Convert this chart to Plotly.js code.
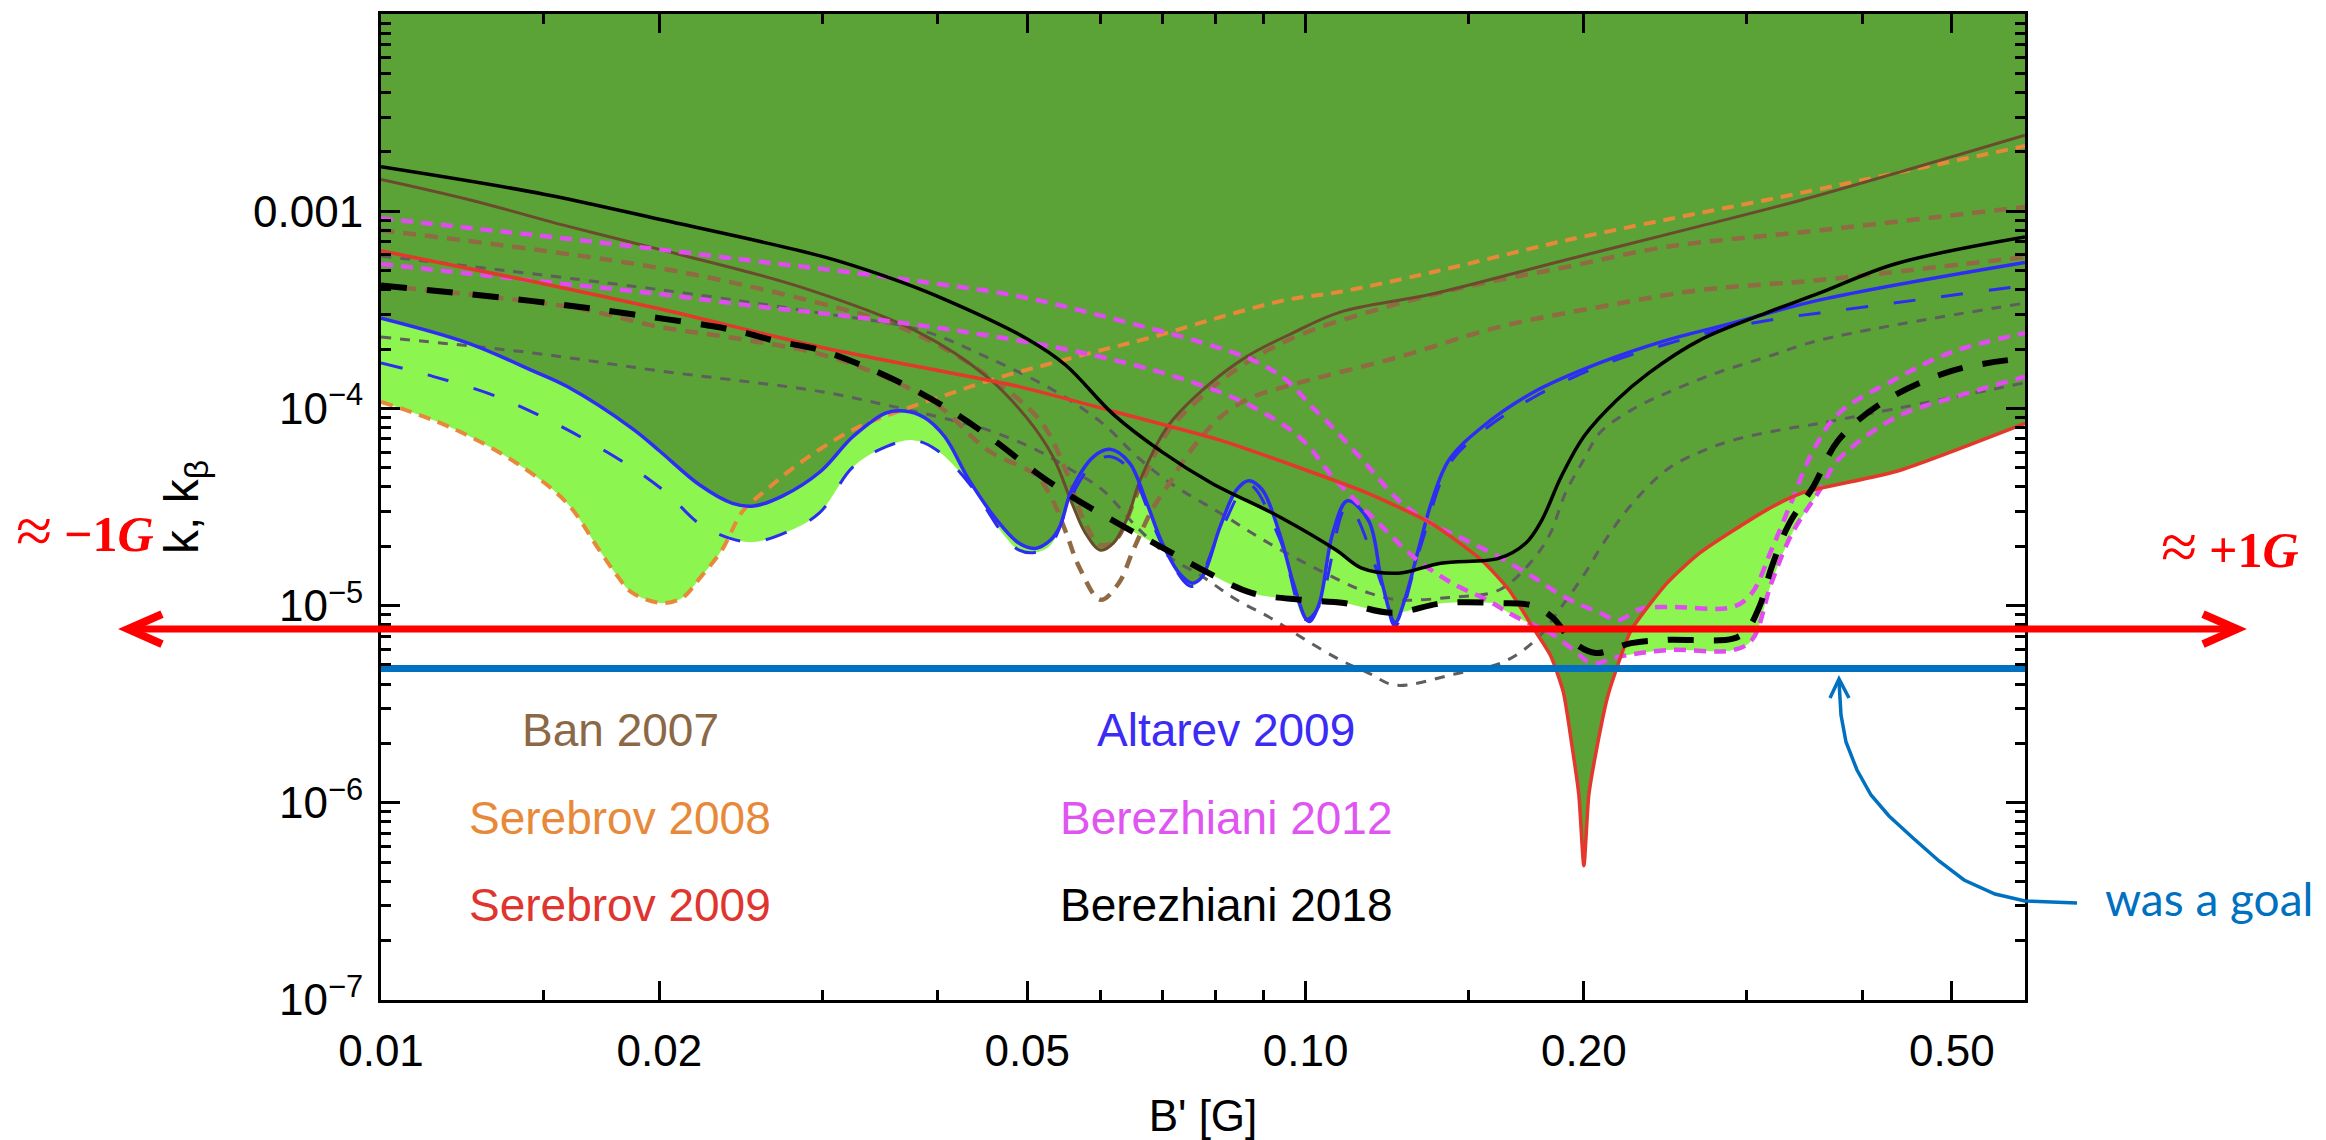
<!DOCTYPE html>
<html><head><meta charset="utf-8">
<script src="https://cdn.plot.ly/plotly-3.0.1.min.js"></script>
<style>html,body{margin:0;padding:0;background:#fff}</style>
</head><body>
<div id="chart" style="width:2326px;height:1140px"></div>
<script>
// ===================== DATA (B' in G, k) =====================
// Ban 2007 (solid)
const ban07_B = [0.01,0.0124,0.0159,0.02,0.0284,0.0383,0.0452,0.0499,0.0533,0.0559,0.0578,0.06,0.062,0.0642,0.0662,0.0708,0.0774,0.0862,0.0968,0.109,0.137,0.191,0.267,0.344,0.6];
const ban07_k = [1.45e-3,1.15e-3,8.4e-4,6.4e-4,4.13e-4,2.41e-4,1.45e-4,9.0e-5,5.7e-5,3.3e-5,2.33e-5,1.91e-5,2.08e-5,2.8e-5,4.3e-5,8.0e-5,1.24e-4,1.82e-4,2.41e-4,3.08e-4,3.8e-4,5.66e-4,8.4e-4,1.14e-3,2.43e-3];
// Ban 2007 (dashed, upper)
const ban07a_B = [0.01,0.02,0.0298,0.0352,0.04,0.0453,0.0516,0.055,0.0576,0.06,0.0623,0.0662,0.0708,0.0768,0.0862,0.0985,0.117,0.149,0.191,0.246,0.36,0.6];
const ban07a_k = [8.0e-4,5.15e-4,3.42e-4,2.74e-4,2.1e-4,1.46e-4,8.7e-5,4.9e-5,2.7e-5,2.03e-5,2.15e-5,4.0e-5,7.5e-5,1.12e-4,1.7e-4,2.35e-4,3.08e-4,4.13e-4,5.2e-4,6.6e-4,8.0e-4,1.05e-3];
// Ban 2007 (dashed, lower)
const ban07b_B = [0.01,0.013,0.0165,0.02,0.024,0.0298,0.0352,0.04,0.0453,0.0512,0.0533,0.0551,0.0569,0.06,0.0628,0.0651,0.0682,0.0713,0.0743,0.0808,0.0876,0.0985,0.126,0.162,0.208,0.267,0.36,0.6];
const ban07b_k = [4.2e-4,3.7e-4,3.19e-4,2.59e-4,2.28e-4,1.89e-4,1.43e-4,1.04e-4,6.15e-5,4.54e-5,3.4e-5,2.33e-5,1.57e-5,1.07e-5,1.3e-5,1.91e-5,3.05e-5,4.2e-5,5.7e-5,9.0e-5,1.14e-4,1.35e-4,1.82e-4,2.59e-4,3.27e-4,3.98e-4,4.48e-4,5.86e-4];
// Serebrov 2008 (dashed)
const ser08_B = [0.01,0.0119,0.014,0.0159,0.0172,0.018,0.0187,0.0202,0.0212,0.0221,0.0234,0.0246,0.0261,0.0284,0.0324,0.0366,0.0415,0.047,0.0533,0.0603,0.0683,0.0808,0.0953,0.109,0.137,0.191,0.267,0.315,0.6];
const ser08_k = [1.08e-4,8.0e-5,5.3e-5,3.3e-5,1.93e-5,1.42e-5,1.16e-5,1.03e-5,1.1e-5,1.37e-5,1.93e-5,3.0e-5,3.86e-5,5.3e-5,7.8e-5,9.8e-5,1.2e-4,1.45e-4,1.7e-4,1.98e-4,2.3e-4,2.9e-4,3.55e-4,3.9e-4,4.9e-4,7.1e-4,9.8e-4,1.14e-3,2.14e-3];
// Serebrov 2009 (solid)
const ser09_B = [0.01,0.0146,0.02,0.0298,0.0383,0.049,0.0628,0.0808,0.0985,0.117,0.137,0.155,0.166,0.176,0.184,0.19,0.194,0.1975,0.2,0.2025,0.207,0.212,0.216,0.225,0.246,0.267,0.315,0.344,0.436,0.6];
const ser09_k = [6.3e-4,4.4e-4,3.2e-4,2.05e-4,1.62e-4,1.29e-4,9.5e-5,6.9e-5,5.0e-5,3.7e-5,2.6e-5,1.7e-5,1.2e-5,7.8e-6,5.6e-6,3.65e-6,2.0e-6,1.1e-6,4.8e-7,1.1e-6,2.0e-6,3.4e-6,4.5e-6,7.5e-6,1.3e-5,1.85e-5,3.05e-5,3.72e-5,4.8e-5,8.4e-5];
// Altarev 2009 (solid)
const alt09_B = [0.01,0.0124,0.0146,0.0159,0.0187,0.02,0.0221,0.024,0.0253,0.0272,0.0299,0.0324,0.0352,0.0368,0.0387,0.0407,0.0433,0.0464,0.049,0.051,0.053,0.0542,0.0559,0.059,0.0614,0.0645,0.0672,0.07,0.073,0.0754,0.0773,0.0808,0.0842,0.0868,0.0898,0.0937,0.097,0.1,0.101,0.1035,0.107,0.111,0.117,0.121,0.125,0.128,0.133,0.137,0.143,0.155,0.176,0.208,0.246,0.29,0.36,0.6];
const alt09_k = [2.87e-4,2.15e-4,1.55e-4,1.29e-4,7.9e-5,6.1e-5,4.1e-5,3.3e-5,3.2e-5,3.6e-5,4.8e-5,7.2e-5,9.5e-5,9.7e-5,9.0e-5,7.2e-5,4.3e-5,2.7e-5,2.07e-5,1.95e-5,2.15e-5,2.5e-5,3.9e-5,5.7e-5,6.2e-5,5.3e-5,3.4e-5,2.07e-5,1.46e-5,1.3e-5,1.4e-5,2.5e-5,3.86e-5,4.3e-5,3.86e-5,2.33e-5,1.3e-5,8.6e-6,8.3e-6,1.03e-5,2.33e-5,3.4e-5,2.7e-5,1.3e-5,8.2e-6,1.07e-5,2.07e-5,3.4e-5,5.5e-5,8.0e-5,1.2e-4,1.7e-4,2.22e-4,2.71e-4,3.55e-4,5.5e-4];
// Altarev 2009 (dashed)
const alt09d_B = [0.01,0.0114,0.0134,0.0159,0.0187,0.0204,0.0221,0.0238,0.0253,0.0277,0.0298,0.0324,0.0352,0.0376,0.0399,0.0432,0.0471,0.049,0.051,0.053,0.0559,0.059,0.0614,0.0645,0.07,0.0754,0.0808,0.0868,0.0937,0.1,0.1035,0.111,0.121,0.125,0.133,0.143,0.155,0.176,0.208,0.251,0.29,0.327,0.36,0.6];
const alt09d_k = [1.7e-4,1.45e-4,1.14e-4,7.8e-5,5.0e-5,3.7e-5,2.6e-5,2.2e-5,2.1e-5,2.4e-5,2.95e-5,5.05e-5,6.4e-5,6.9e-5,6.15e-5,4.2e-5,2.3e-5,1.91e-5,1.86e-5,2.03e-5,3.63e-5,5.3e-5,5.7e-5,4.9e-5,2.03e-5,1.25e-5,2.35e-5,4.1e-5,2.2e-5,8.5e-6,1.0e-5,3.2e-5,1.26e-5,7.9e-6,1.96e-5,5.2e-5,7.6e-5,1.13e-4,1.64e-4,2.18e-4,2.59e-4,2.87e-4,3.05e-4,4.2e-4];
// Berezhiani 2012 (dashed, upper / lower)
const ber12a_B = [0.01,0.0149,0.02,0.0261,0.03,0.0383,0.049,0.0628,0.0774,0.0876,0.0952,0.1016,0.107,0.117,0.126,0.137,0.149,0.162,0.176,0.191,0.208,0.218,0.23,0.246,0.29,0.304,0.319,0.336,0.353,0.377,0.435,0.5,0.6];
const ber12a_k = [9.2e-4,7.5e-4,6.4e-4,5.5e-4,5.1e-4,4.4e-4,3.7e-4,2.8e-4,2.15e-4,1.76e-4,1.4e-4,1.02e-4,8.0e-5,5.05e-5,3.43e-5,2.6e-5,2.15e-5,1.76e-5,1.4e-5,1.1e-5,9.2e-6,8.45e-6,9.6e-6,9.85e-6,9.85e-6,1.16e-5,1.91e-5,3.43e-5,5.94e-5,9.4e-5,1.41e-4,1.93e-4,2.41e-4];
const ber12b_B = [0.01,0.0146,0.02,0.0261,0.0298,0.0415,0.0578,0.0743,0.0876,0.099,0.107,0.119,0.131,0.144,0.157,0.169,0.184,0.195,0.204,0.218,0.246,0.29,0.304,0.319,0.336,0.36,0.377,0.435,0.5,0.6];
const ber12b_k = [5.4e-4,4.45e-4,3.8e-4,3.25e-4,3.05e-4,2.5e-4,1.9e-4,1.39e-4,1.02e-4,7.0e-5,4.5e-5,2.72e-5,1.76e-5,1.3e-5,1.07e-5,8.75e-6,7.26e-6,5.95e-6,5.1e-6,5.5e-6,5.95e-6,5.95e-6,6.7e-6,1.3e-5,2.33e-5,3.86e-5,5.5e-5,9.0e-5,1.13e-4,1.45e-4];
// Berezhiani 2018 (solid)
const ber18_B = [0.01,0.015,0.02,0.03,0.035,0.04,0.05,0.055,0.062,0.07,0.079,0.094,0.108,0.115,0.126,0.14,0.162,0.173,0.18,0.189,0.2,0.217,0.235,0.267,0.315,0.36,0.434,0.6];
const ber18_k = [1.68e-3,1.22e-3,9.1e-4,5.9e-4,4.7e-4,3.7e-4,2.25e-4,1.66e-4,9.3e-5,6.0e-5,4.2e-5,2.8e-5,1.91e-5,1.55e-5,1.46e-5,1.64e-5,1.74e-5,2.07e-5,2.7e-5,4.5e-5,7.2e-5,1.1e-4,1.51e-4,2.22e-4,3.05e-4,3.85e-4,5.4e-4,7.4e-4];
// Berezhiani 2018 (dashed, thick)
const ber18d_B = [0.01,0.0146,0.0187,0.024,0.0267,0.0298,0.0337,0.0383,0.0423,0.0464,0.0512,0.0559,0.0628,0.0708,0.0786,0.0874,0.099,0.11,0.124,0.141,0.162,0.176,0.185,0.195,0.206,0.225,0.246,0.29,0.30,0.31,0.319,0.333,0.354,0.377,0.422,0.5,0.6];
const ber18d_k = [4.2e-4,3.5e-4,3.0e-4,2.5e-4,2.2e-4,1.98e-4,1.6e-4,1.2e-4,9.1e-5,6.7e-5,4.7e-5,3.56e-5,2.6e-5,1.91e-5,1.46e-5,1.16e-5,1.07e-5,1.03e-5,9.2e-6,1.03e-5,1.03e-5,1.0e-5,8.7e-6,6.5e-6,5.75e-6,6.45e-6,6.7e-6,6.8e-6,7.5e-6,1.0e-5,1.55e-5,2.57e-5,4.0e-5,6.9e-5,1.08e-4,1.55e-4,1.8e-4];
// grey dashed curves
const grayA_B = [0.01,0.02,0.0298,0.0383,0.0452,0.0533,0.0603,0.0657,0.0713,0.0808,0.0913,0.1035,0.117,0.126,0.143,0.162,0.176,0.184,0.191,0.2,0.208,0.225,0.246,0.278,0.315,0.36,0.6];
const grayA_k = [5.93e-4,4.0e-4,3.05e-4,2.5e-4,1.82e-4,1.24e-4,8.4e-5,5.7e-5,4.2e-5,2.95e-5,2.07e-5,1.51e-5,1.16e-5,1.07e-5,1.1e-5,1.2e-5,1.7e-5,2.33e-5,3.72e-5,5.5e-5,7.5e-5,9.8e-5,1.2e-4,1.51e-4,1.82e-4,2.22e-4,3.42e-4];
const grayB_B = [0.01,0.0146,0.02,0.0298,0.0352,0.0415,0.0452,0.0512,0.0557,0.0603,0.0657,0.0713,0.0774,0.0842,0.0913,0.099,0.109,0.117,0.125,0.145,0.164,0.178,0.188,0.2,0.211,0.225,0.246,0.267,0.29,0.327,0.36,0.6];
const grayB_k = [2.3e-4,1.91e-4,1.55e-4,1.22e-4,1.04e-4,8.7e-5,7.8e-5,6.15e-5,4.9e-5,3.86e-5,2.5e-5,1.76e-5,1.4e-5,1.07e-5,8.75e-6,6.9e-6,5.3e-6,4.55e-6,3.95e-6,4.5e-6,5.2e-6,6.8e-6,9.5e-6,1.43e-5,2.15e-5,3.24e-5,4.9e-5,6.0e-5,6.9e-5,7.8e-5,8.4e-5,1.35e-4];
// annotation levels
const goalLevel = [4.8e-6];
const arrowLevel = [7.6e-6];
// axis ticks
const xTickVals = [0.01,0.02,0.05,0.1,0.2,0.5];
const xTickText = ["0.01","0.02","0.05","0.10","0.20","0.50"];
const xMinorVals = [0.015,0.03,0.04,0.06,0.07,0.08,0.09,0.15,0.3,0.4];
const yTickVals = [1e-3,1e-4,1e-5,1e-6,1e-7];
const yTickText = ["0.001","10<sup>\u22124</sup>","10<sup>\u22125</sup>","10<sup>\u22126</sup>","10<sup>\u22127</sup>"];
const legendNames = ["Ban 2007","Serebrov 2008","Serebrov 2009","Altarev 2009","Berezhiani 2012","Berezhiani 2018"];

// ===================== BUILD =====================
const X_RANGE = [-2, Math.log10(0.6)];
const Y_RANGE = [-7, -2];
const yTop = Math.pow(10, Y_RANGE[1]);
const DARK = '#5BA336', LIGHT = '#8DF550';

const C = {
  ban07:{x:ban07_B,y:ban07_k}, ban07a:{x:ban07a_B,y:ban07a_k}, ban07b:{x:ban07b_B,y:ban07b_k},
  ser08:{x:ser08_B,y:ser08_k}, ser09:{x:ser09_B,y:ser09_k},
  alt09:{x:alt09_B,y:alt09_k}, alt09d:{x:alt09d_B,y:alt09d_k},
  ber12a:{x:ber12a_B,y:ber12a_k}, ber12b:{x:ber12b_B,y:ber12b_k},
  ber18:{x:ber18_B,y:ber18_k}, ber18d:{x:ber18d_B,y:ber18d_k},
  grayA:{x:grayA_B,y:grayA_k}, grayB:{x:grayB_B,y:grayB_k}
};
const SM = {ser09:0.6};
const traces = [];
function fillAbove(key, color){
  const c = C[key];
  traces.push({x:c.x, y:c.x.map(()=>yTop), mode:'lines', line:{width:0}, hoverinfo:'skip', showlegend:false});
  traces.push({x:c.x, y:c.y, mode:'lines', line:{width:0, shape:'spline', smoothing:SM[key]||1}, fill:'tonexty', fillcolor:color, hoverinfo:'skip', showlegend:false});
}
['ser08','alt09d','ber18d','ber12a','ber12b'].forEach(k=>fillAbove(k, LIGHT));
['ban07','ser09','alt09','ber18'].forEach(k=>fillAbove(k, DARK));

function line(key, color, width, dash){
  const c = C[key];
  traces.push({x:c.x, y:c.y, mode:'lines', hoverinfo:'skip', showlegend:false,
    line:{color:color, width:width, dash:dash||'solid', shape:'spline', smoothing:SM[key]||1}});
}
line('grayA','#5E5E5E',3,'10px,9px');
line('grayB','#5E5E5E',3,'10px,9px');
line('ban07a','#8F6A43',4.5,'13px,9px');
line('ban07b','#8F6A43',4.5,'13px,9px');
line('ser08','#E8893A',4,'12px,8px');
line('ban07','#6B4B2E',3);
line('alt09d','#2D2DF0',3,'22px,26px');
line('alt09','#2D2DF5',3.5);
line('ber12b','#E04CEF',4.5,'12px,8px');
line('ber12a','#E04CEF',4.5,'12px,8px');
line('ser09','#E3382B',3.5);
line('ber18d','#000000',6,'26px,20px');
line('ber18','#000000',3.5);
// goal line across the plot
traces.push({x:[Math.pow(10,X_RANGE[0]), Math.pow(10,X_RANGE[1])], y:[goalLevel[0],goalLevel[0]], mode:'lines',
  line:{color:'#0070C0', width:7}, hoverinfo:'skip', showlegend:false});

// pixel helpers for decorations
const PL = {l:381, t:14, w:1644, h:986};
const pxX = X => (X-PL.l)/PL.w;
const pxY = Y => (PL.t+PL.h-Y)/PL.h;
const valY = v => (Math.log10(v)-Y_RANGE[0])/(Y_RANGE[1]-Y_RANGE[0]);
const aY = valY(arrowLevel[0]);
const dy = 15/PL.h;
const RED = '#FF0000';
const shapes = [
  {type:'line', xref:'paper', yref:'paper', x0:pxX(130), x1:pxX(2234), y0:aY, y1:aY, line:{color:RED, width:7}},
  {type:'path', xref:'paper', yref:'paper', path:`M ${pxX(162)},${aY+dy} L ${pxX(128)},${aY} L ${pxX(162)},${aY-dy}`, line:{color:RED, width:8}},
  {type:'path', xref:'paper', yref:'paper', path:`M ${pxX(2203)},${aY+dy} L ${pxX(2237)},${aY} L ${pxX(2203)},${aY-dy}`, line:{color:RED, width:8}}
];
const callPts = [[1839,681],[1841,715],[1846,742],[1857,770],[1871,795],[1889,816],[1913,838],[1939,861],[1964,880],[1995,894],[2025,901],[2077,903]];
shapes.push({type:'path', xref:'paper', yref:'paper', line:{color:'#0070C0', width:3.5},
  path: callPts.map((p,i)=>(i?'L ':'M ')+pxX(p[0])+','+pxY(p[1])).join(' ')});
shapes.push({type:'path', xref:'paper', yref:'paper', line:{color:'#0070C0', width:3.5},
  path:`M ${pxX(1830)},${pxY(698)} L ${pxX(1839)},${pxY(679)} L ${pxX(1849)},${pxY(698)}`});

const LF = 'Liberation Sans, Arial, sans-serif';
const legendColors = ['#8B6947','#E8893A','#E0352F','#3B2BF5','#E055F2','#000000'];
const legendPos = [[620,730],[620,818],[620,905],[1226,730],[1226,818],[1226,905]];
const annotations = legendNames.map((t,i)=>({text:t, xref:'paper', yref:'paper', x:pxX(legendPos[i][0]), y:pxY(legendPos[i][1]),
  xanchor:'center', yanchor:'middle', showarrow:false, font:{family:LF, size:46, color:legendColors[i]}}));
const SERIF = 'Liberation Serif, serif';
function redText(t, X, Y, anchor, size){
  annotations.push({text:t, xref:'paper', yref:'paper', x:pxX(X), y:pxY(Y), xanchor:anchor, yanchor:'middle', showarrow:false,
    font:{family:SERIF, size:size, color:RED}});
}
redText('\u2248', 34, 530, 'center', 66);
redText('<b>\u22121</b><b><i>G</i></b>', 62, 534, 'left', 50);
redText('\u2248', 2179, 546, 'center', 66);
redText('<b>+1</b><b><i>G</i></b>', 2207, 550, 'left', 50);
annotations.push({text:'was a goal', xref:'paper', yref:'paper', x:pxX(2103), y:pxY(898), xanchor:'left', yanchor:'middle', showarrow:false,
  font:{family:'Lato, Open Sans, sans-serif', size:46, color:'#0070C0'}});

const yMinor = [];
for (let e=-7;e<=-3;e++) for (let m=2;m<=9;m++) yMinor.push(m*Math.pow(10,e));

const axisCommon = {ticks:'inside', tickwidth:3, tickcolor:'#000', showline:true, linewidth:3, linecolor:'#000',
  mirror:'ticks', showgrid:false, zeroline:false};
const layout = {
  width:2326, height:1140, margin:{l:381, r:301, t:14, b:140},
  paper_bgcolor:'#fff', plot_bgcolor:'#fff', showlegend:false,
  xaxis: Object.assign({}, axisCommon, {type:'log', range:X_RANGE, tickmode:'array', tickvals:xTickVals, ticktext:xTickText, ticklen:19,
    tickfont:{family:LF, size:44, color:'#000'}, ticklabelstandoff:10,
    minor:{tickmode:'array', tickvals:xMinorVals, ticks:'inside', ticklen:10, tickwidth:3, tickcolor:'#000', showgrid:false},
    title:{text:"B' [G]", font:{family:LF, size:44, color:'#000'}, standoff:30}}),
  yaxis: Object.assign({}, axisCommon, {type:'log', range:Y_RANGE, tickmode:'array', tickvals:yTickVals, ticktext:yTickText, ticklen:19,
    tickfont:{family:LF, size:44, color:'#000'}, ticklabelstandoff:6,
    minor:{tickmode:'array', tickvals:yMinor, ticks:'inside', ticklen:10, tickwidth:3, tickcolor:'#000', showgrid:false},
    title:{text:'k, k<sub>\u03B2</sub>', font:{family:LF, size:48, color:'#000'}, standoff:40}}),
  shapes: shapes, annotations: annotations
};
Plotly.newPlot('chart', traces, layout, {staticPlot:true, displayModeBar:false});
</script>
</body></html>
